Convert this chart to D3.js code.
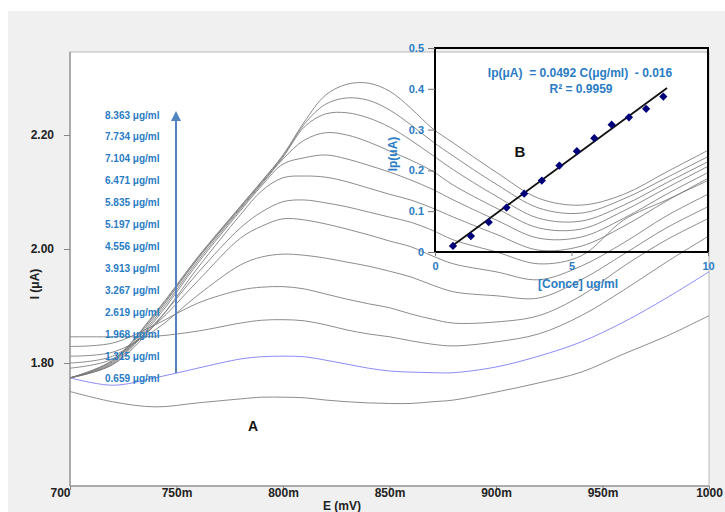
<!DOCTYPE html>
<html>
<head>
<meta charset="utf-8">
<title>DPV scans</title>
<script src="https://cdn.jsdelivr.net/npm/d3@7"></script>
<style>
    body { margin: 0; background: #fff; }
    text { font-family: "Liberation Sans", Arial, sans-serif; font-weight: bold; }
</style>
</head>
<body>
<svg id="chart" width="725" height="512"></svg>
<script>
// potential axis of the scans (mV)
var potential = [700, 720, 740, 760, 780, 790, 800, 810, 820, 830, 840, 850, 860, 870, 880, 900, 920, 940, 960, 980, 1000];

// current (uA) of each scan, bottom to top
var scan01 = [1.750, 1.732, 1.723, 1.730, 1.737, 1.740, 1.740, 1.739, 1.735, 1.732, 1.730, 1.729, 1.729, 1.732, 1.735, 1.749, 1.765, 1.784, 1.816, 1.847, 1.883];
var scan02 = [1.774, 1.761, 1.774, 1.791, 1.807, 1.811, 1.812, 1.811, 1.805, 1.798, 1.791, 1.786, 1.784, 1.783, 1.783, 1.793, 1.812, 1.837, 1.872, 1.914, 1.960];
var scan03 = [1.846, 1.846, 1.847, 1.856, 1.870, 1.875, 1.876, 1.874, 1.867, 1.858, 1.851, 1.846, 1.839, 1.833, 1.830, 1.837, 1.851, 1.883, 1.928, 1.977, 2.023];
var scan04 = [1.829, 1.835, 1.867, 1.905, 1.928, 1.933, 1.934, 1.930, 1.921, 1.912, 1.904, 1.897, 1.886, 1.877, 1.870, 1.872, 1.883, 1.918, 1.970, 2.016, 2.054];
var scan05 = [1.812, 1.819, 1.858, 1.919, 1.972, 1.986, 1.991, 1.989, 1.984, 1.977, 1.970, 1.961, 1.951, 1.937, 1.925, 1.918, 1.914, 1.946, 1.991, 2.037, 2.075];
var scan06 = [1.800, 1.812, 1.867, 1.944, 2.019, 2.040, 2.053, 2.051, 2.044, 2.035, 2.025, 2.014, 2.004, 1.988, 1.974, 1.960, 1.946, 1.970, 2.011, 2.058, 2.097];
var scan07 = [1.791, 1.807, 1.870, 1.958, 2.037, 2.065, 2.083, 2.086, 2.081, 2.074, 2.065, 2.056, 2.047, 2.033, 2.016, 1.995, 1.974, 1.988, 2.051, 2.086, 2.121];
var scan08 = [1.774, 1.797, 1.868, 1.967, 2.060, 2.102, 2.125, 2.128, 2.126, 2.118, 2.107, 2.096, 2.086, 2.072, 2.056, 2.026, 1.998, 2.005, 2.040, 2.084, 2.125];
var scan09 = [1.774, 1.798, 1.875, 1.975, 2.067, 2.111, 2.149, 2.160, 2.165, 2.158, 2.147, 2.135, 2.121, 2.105, 2.086, 2.051, 2.019, 2.021, 2.054, 2.096, 2.135];
var scan10 = [1.774, 1.800, 1.879, 1.979, 2.070, 2.114, 2.158, 2.191, 2.204, 2.200, 2.188, 2.172, 2.156, 2.137, 2.112, 2.072, 2.037, 2.035, 2.067, 2.107, 2.146];
var scan11 = [1.774, 1.802, 1.883, 1.983, 2.072, 2.116, 2.161, 2.214, 2.237, 2.239, 2.230, 2.214, 2.191, 2.165, 2.139, 2.093, 2.054, 2.049, 2.077, 2.116, 2.154];
var scan12 = [1.774, 1.804, 1.886, 1.984, 2.074, 2.118, 2.163, 2.219, 2.254, 2.265, 2.261, 2.244, 2.218, 2.189, 2.163, 2.114, 2.072, 2.063, 2.088, 2.125, 2.163];
var scan13 = [1.774, 1.805, 1.888, 1.986, 2.075, 2.119, 2.165, 2.223, 2.270, 2.289, 2.291, 2.277, 2.247, 2.212, 2.186, 2.135, 2.089, 2.077, 2.096, 2.135, 2.174];
var scans = [scan01, scan02, scan03, scan04, scan05, scan06, scan07, scan08, scan09, scan10, scan11, scan12, scan13];

// calibration (inset B)
var concentrations = [0.659, 1.315, 1.968, 2.619, 3.267, 3.913, 4.556, 5.197, 5.835, 6.471, 7.104, 7.734, 8.363];
var peakCurrents = [0.015, 0.039, 0.073, 0.109, 0.143, 0.175, 0.212, 0.247, 0.279, 0.312, 0.330, 0.351, 0.381];
var fitSlope = 0.0492, fitIntercept = -0.016;
var fitRange = [0.6, 8.5];

// ticks
var xTicks = [700, 750, 800, 850, 900, 950, 1000];
var xTickLabels = ["700", "750m", "800m", "850m", "900m", "950m", "1000"];
var yTicks = [1.80, 2.00, 2.20];
var insetXTicks = [0, 5, 10];
var insetYTicks = [0, 0.1, 0.2, 0.3, 0.4, 0.5];

var blue = "#2a7cc4";
var svg = d3.select("#chart");

// panel background
svg.append("rect").attr("x", 8).attr("y", 11).attr("width", 717).attr("height", 501).attr("fill", "#f0f0f0");

var plot = {left: 70, right: 709, top: 52, bottom: 486};
svg.append("rect")
    .attr("x", plot.left).attr("y", plot.top)
    .attr("width", plot.right - plot.left).attr("height", plot.bottom - plot.top)
    .attr("fill", "#fff").attr("stroke", "#b8b8b8");

var x = d3.scaleLinear().domain([700, 1000]).range([plot.left, plot.right]);
var y = d3.scaleLinear().domain([1.80, 2.20]).range([363, 135]);

// axis lines
svg.append("line").attr("x1", plot.left).attr("x2", plot.left).attr("y1", plot.top).attr("y2", plot.bottom)
    .attr("stroke", "#9c9c9c").attr("stroke-width", 1.5);
svg.append("line").attr("x1", plot.left).attr("x2", plot.right).attr("y1", plot.bottom).attr("y2", plot.bottom)
    .attr("stroke", "#9c9c9c").attr("stroke-width", 1.5);

var yAxis = svg.append("g").attr("transform", "translate(" + plot.left + ",0)")
    .call(d3.axisLeft(y).tickValues(yTicks).tickFormat(d3.format(".2f")).tickSize(6).tickPadding(10));
yAxis.select(".domain").remove();
yAxis.selectAll("line").attr("stroke", "#888");
yAxis.selectAll("text").attr("font-size", 12).attr("fill", "#222").attr("font-family", null);

var xAxis = svg.append("g").attr("transform", "translate(0," + plot.bottom + ")")
    .call(d3.axisBottom(x).tickValues(xTicks).tickFormat(function(d, i) { return xTickLabels[i]; }).tickSize(4));
xAxis.select(".domain").remove();
xAxis.selectAll("line").attr("stroke", "#888");
xAxis.selectAll("text").attr("font-size", 12).attr("fill", "#222").attr("font-family", null)
    .attr("y", 11).attr("dy", 0);
xAxis.select(".tick text").attr("text-anchor", "end");

svg.append("text").attr("x", 342).attr("y", 510).attr("text-anchor", "middle")
    .attr("font-size", 12).attr("fill", "#222").text("E (mV)");
svg.append("text").attr("transform", "translate(39,284) rotate(-90)").attr("text-anchor", "middle")
    .attr("font-size", 12).attr("fill", "#222").text("I (\u03bcA)");

// scans
var line = d3.line()
    .x(function(d, i) { return x(potential[i]); })
    .y(function(d) { return y(d); })
    .curve(d3.curveCatmullRom.alpha(0.5));

svg.append("g").selectAll("path")
    .data(scans)
    .enter().append("path")
    .attr("d", line)
    .attr("fill", "none")
    .attr("stroke", function(d, i) { return i == 1 ? "#7676f4" : "#777"; })
    .attr("stroke-width", 0.85);

// concentration labels
var labelY = d3.scalePoint().domain(concentrations.slice().reverse()).range([115, 378]);
svg.append("g").selectAll("text")
    .data(concentrations)
    .enter().append("text")
    .attr("x", 105)
    .attr("y", function(d) { return labelY(d); })
    .attr("dy", "0.35em")
    .attr("font-size", 10)
    .attr("fill", blue)
    .text(function(d) { return d3.format(".3f")(d) + " \u03bcg/ml"; });

// arrow
svg.append("line").attr("x1", 176).attr("x2", 176).attr("y1", 373).attr("y2", 118)
    .attr("stroke", "#5383bf").attr("stroke-width", 2);
svg.append("path").attr("d", "M176,111 L171,121 L181,121 Z").attr("fill", "#5383bf");

svg.append("text").attr("x", 253).attr("y", 431).attr("text-anchor", "middle")
    .attr("font-size", 14).attr("fill", "#111").text("A");

// inset B
var inset = {left: 435, right: 708, top: 48, bottom: 252};
var ix = d3.scaleLinear().domain([0, 10]).range([inset.left, inset.right]);
var iy = d3.scaleLinear().domain([0, 0.5]).range([inset.bottom, inset.top]);

svg.append("rect").attr("x", inset.left).attr("y", inset.top)
    .attr("width", inset.right - inset.left).attr("height", inset.bottom - inset.top)
    .attr("fill", "none").attr("stroke", "#000").attr("stroke-width", 2);

var iyAxis = svg.append("g").attr("transform", "translate(" + inset.left + ",0)")
    .call(d3.axisLeft(iy).tickValues(insetYTicks).tickFormat(d3.format("")).tickSize(7).tickPadding(4));
iyAxis.select(".domain").remove();
iyAxis.selectAll("line").attr("stroke", "#777");
iyAxis.selectAll("text").attr("font-size", 11).attr("fill", blue).attr("font-family", null);

var ixAxis = svg.append("g").attr("transform", "translate(0," + inset.bottom + ")")
    .call(d3.axisBottom(ix).tickValues(insetXTicks).tickSize(4).tickPadding(6));
ixAxis.select(".domain").remove();
ixAxis.selectAll("line").attr("stroke", "#777");
ixAxis.selectAll("text").attr("font-size", 11).attr("fill", blue).attr("font-family", null);

svg.append("text").attr("x", 578).attr("y", 288).attr("text-anchor", "middle")
    .attr("font-size", 12).attr("fill", blue).text("[Conce] ug/ml");
svg.append("text").attr("transform", "translate(397,154) rotate(-90)").attr("text-anchor", "middle")
    .attr("font-size", 12).attr("fill", blue).text("Ip(uA)");

svg.append("text").attr("x", 580).attr("y", 77).attr("text-anchor", "middle").attr("xml:space", "preserve")
    .attr("font-size", 12).attr("fill", blue).text("Ip(\u03bcA)  = 0.0492 C(\u03bcg/ml)  - 0.016");
svg.append("text").attr("x", 581).attr("y", 93).attr("text-anchor", "middle")
    .attr("font-size", 12).attr("fill", blue).text("R\u00b2 = 0.9959");
svg.append("text").attr("x", 520).attr("y", 157).attr("text-anchor", "middle")
    .attr("font-size", 15).attr("fill", "#111").text("B");

svg.append("line")
    .attr("x1", ix(fitRange[0])).attr("y1", iy(fitSlope * fitRange[0] + fitIntercept))
    .attr("x2", ix(fitRange[1])).attr("y2", iy(fitSlope * fitRange[1] + fitIntercept))
    .attr("stroke", "#111").attr("stroke-width", 1.8);

svg.append("g").selectAll("path")
    .data(concentrations)
    .enter().append("path")
    .attr("d", d3.symbol().type(d3.symbolSquare).size(34))
    .attr("transform", function(d, i) { return "translate(" + ix(d) + "," + iy(peakCurrents[i]) + ") rotate(45)"; })
    .attr("fill", "#00007a");
</script>
</body>
</html>
